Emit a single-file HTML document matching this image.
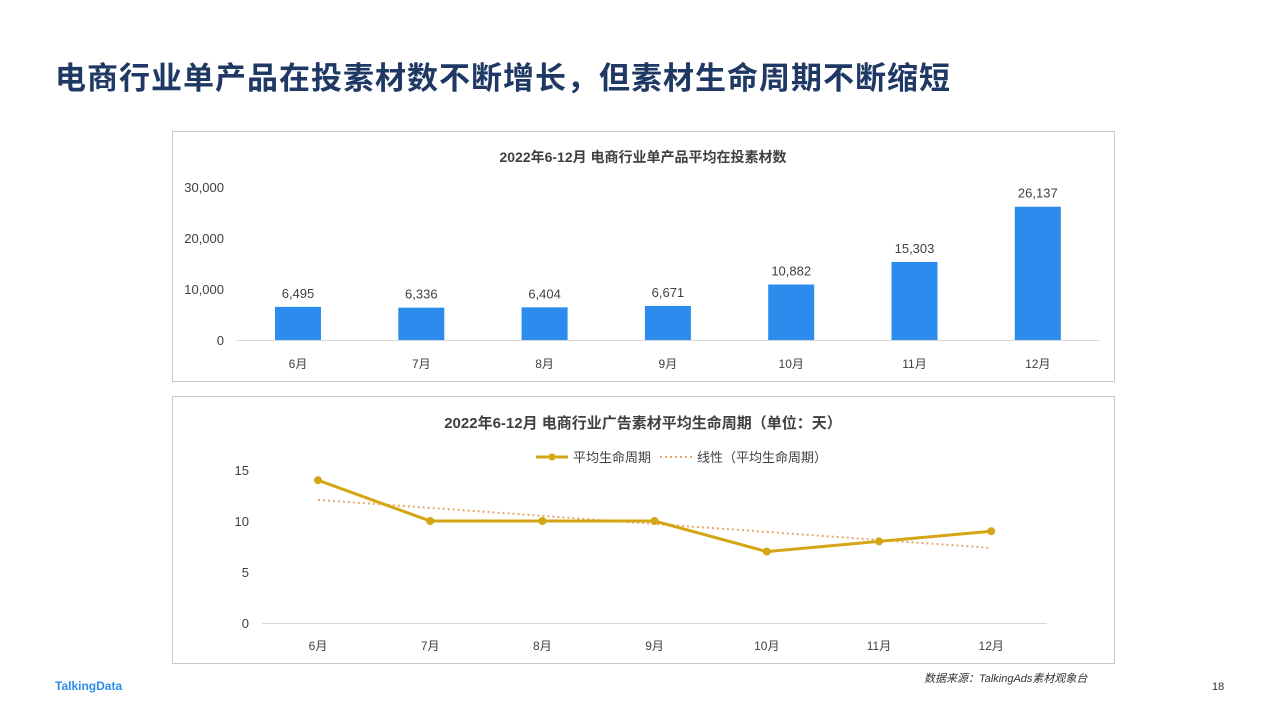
<!DOCTYPE html>
<html><head><meta charset="utf-8"><style>
body{margin:0;width:1280px;height:720px;background:#fff;font-family:"Liberation Sans","Noto Sans CJK SC",sans-serif;position:relative;overflow:hidden}
.t{position:absolute}
</style></head><body>
<div class="t" style="left:55px;top:53px;font-size:31px;letter-spacing:1px;font-weight:bold;color:#1f3864;font-family:'Liberation Sans','Noto Sans CJK SC',sans-serif;white-space:nowrap">电商行业单产品在投素材数不断增长，但素材生命周期不断缩短</div>
<svg width="1280" height="720" style="position:absolute;left:0;top:0">
<rect x="172.5" y="131.5" width="942" height="250" fill="#fff" stroke="#c8c8c8"/>
<rect x="172.5" y="396.5" width="942" height="267" fill="#fff" stroke="#c8c8c8"/>
<text x="643" y="162" text-anchor="middle" font-size="14" font-weight="bold" fill="#404040">2022年6-12月 电商行业单产品平均在投素材数</text>
<text x="643" y="428" text-anchor="middle" font-size="15" font-weight="bold" fill="#404040">2022年6-12月 电商行业广告素材平均生命周期（单位：天）</text>
<g id="bars"></g><g id="lines"></g>
<g>
<line x1="536" y1="457" x2="568" y2="457" stroke="#d4a514" stroke-width="3"/><circle cx="552" cy="457" r="3.5" fill="#d4a514"/>
<text x="573" y="462" font-size="13" fill="#404040">平均生命周期</text>
<line x1="660" y1="457" x2="692" y2="457" stroke="#e8a76a" stroke-width="2" stroke-dasharray="2,3"/>
<text x="697" y="462" font-size="13" fill="#404040">线性（平均生命周期）</text>
</g>
</svg>
<div class="t" style="left:924px;top:670px;font-size:11px;font-style:italic;color:#333">数据来源：TalkingAds素材观象台</div>
<div class="t" style="left:55px;top:679px;font-size:12px;font-weight:bold;color:#2a8de8">TalkingData</div>
<div class="t" style="left:1212px;top:681px;font-size:11px;color:#333">18</div>
<script>
const categories=["6月","7月","8月","9月","10月","11月","12月"];
const barValues=[6495,6336,6404,6671,10882,15303,26137];
const barTicks=[0,10000,20000,30000];
const lifeValues=[14,10,10,10,7,8,9];
const lineTicks=[0,5,10,15];
const NS="http://www.w3.org/2000/svg";
function mk(p,tag,a,txt){const e=document.createElementNS(NS,tag);for(const k in a)e.setAttribute(k,a[k]);if(txt!==undefined)e.textContent=txt;p.appendChild(e);return e;}
const fmt=v=>v.toLocaleString('en-US');
const bg=document.getElementById('bars');
const bx=i=>298+i*123.3, by=v=>340-v*(153/30000);
mk(bg,'line',{x1:236,x2:1100,y1:340.5,y2:340.5,stroke:'#d9d9d9'});
barTicks.forEach(t=>{const e=mk(bg,'text',{x:224,y:by(t)+5,'text-anchor':'end','font-size':13,fill:'#404040'},fmt(t));

});
barValues.forEach((v,i)=>{const r=mk(bg,'rect',{x:bx(i)-23,y:by(v),width:46,height:340-by(v),fill:'#2b8ced'});


const l=mk(bg,'text',{x:bx(i),y:by(v)-9,'text-anchor':'middle','font-size':13,fill:'#404040'},fmt(v));


const c=mk(bg,'text',{x:bx(i),y:368,'text-anchor':'middle','font-size':12,fill:'#404040'},categories[i]);

});
const lg=document.getElementById('lines');
const lx=i=>318+i*112.2, ly=v=>623-v*10.2;
mk(lg,'line',{x1:262,x2:1047,y1:623.5,y2:623.5,stroke:'#d9d9d9'});
lineTicks.forEach(t=>{const e=mk(lg,'text',{x:249,y:ly(t)+5,'text-anchor':'end','font-size':13,fill:'#404040'},t);

});
const n=lifeValues.length,mx=(n-1)/2,my=lifeValues.reduce((a,b)=>a+b,0)/n;
let sxy=0,sxx=0;lifeValues.forEach((v,i)=>{sxy+=(i-mx)*(v-my);sxx+=(i-mx)*(i-mx);});
const sl=sxy/sxx,ic=my-sl*mx;
const tr=mk(lg,'line',{x1:lx(0),y1:ly(ic),x2:lx(n-1),y2:ly(ic+sl*(n-1)),stroke:'#e8a76a','stroke-width':2,'stroke-dasharray':'2,3'});


const pl=mk(lg,'polyline',{points:lifeValues.map((v,i)=>lx(i)+','+ly(v)).join(' '),fill:'none',stroke:'#d4a514','stroke-width':3});


lifeValues.forEach((v,i)=>{const c=mk(lg,'circle',{cx:lx(i),cy:ly(v),r:4,fill:'#d4a514'});


const t=mk(lg,'text',{x:lx(i),y:650,'text-anchor':'middle','font-size':12,fill:'#404040'},categories[i]);

});
</script>
</body></html>
